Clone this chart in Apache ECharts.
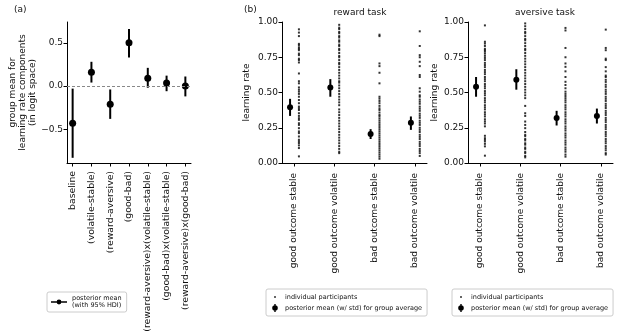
<!DOCTYPE html>
<html>
<head>
<meta charset="utf-8">
<script src="https://cdn.jsdelivr.net/npm/echarts@6/dist/echarts.min.js"></script>
<style>
  html, body { margin: 0; padding: 0; background: #fff; }
  #main { width: 617px; height: 335px; }
</style>
</head>
<body>
<div id="main"></div>
<script>
// panel (a): group means of learning rate components (logit space)
const aLabels = ["baseline", "(volatile-stable)", "(reward-aversive)", "(good-bad)",
  "(reward-aversive)x(volatile-stable)", "(good-bad)x(volatile-stable)", "(reward-aversive)x(good-bad)"];
const aMean = [-0.43, 0.16, -0.21, 0.50, 0.09, 0.035, 0.0];
const aLow = [-0.83, 0.04, -0.38, 0.33, -0.02, -0.06, -0.12];
const aHigh = [-0.03, 0.28, -0.04, 0.66, 0.21, 0.12, 0.11];

// panel (b)
const bLabels = ["good outcome stable", "good outcome volatile", "bad outcome stable", "bad outcome volatile"];
const rewardMean = [0.395, 0.536, 0.205, 0.285];
const rewardLow = [0.334, 0.47, 0.17, 0.235];
const rewardHigh = [0.455, 0.595, 0.24, 0.33];
const aversiveMean = [0.54, 0.59, 0.32, 0.334];
const aversiveLow = [0.47, 0.52, 0.266, 0.28];
const aversiveHigh = [0.61, 0.665, 0.37, 0.386];

// individual participants
const rewardGoodStable = [0.948, 0.925, 0.90, 0.845, 0.835, 0.82, 0.81, 0.80, 0.776, 0.765, 0.74, 0.73, 0.713,
  0.635, 0.58, 0.565, 0.536, 0.52, 0.506, 0.49, 0.47, 0.447, 0.424, 0.40, 0.388, 0.376, 0.353, 0.334, 0.318,
  0.306, 0.282, 0.27, 0.247, 0.224, 0.212, 0.188, 0.165, 0.153, 0.141, 0.125, 0.106, 0.047];
const rewardGoodVolatile = [0.98, 0.96, 0.95, 0.93, 0.92, 0.90, 0.89, 0.87, 0.86, 0.84, 0.83, 0.81, 0.80, 0.78,
  0.76, 0.75, 0.73, 0.71, 0.70, 0.68, 0.66, 0.64, 0.62, 0.60, 0.58, 0.57, 0.55, 0.53, 0.51, 0.49, 0.47, 0.45,
  0.43, 0.41, 0.38, 0.36, 0.34, 0.32, 0.30, 0.28, 0.26, 0.24, 0.22, 0.20, 0.18, 0.16, 0.14, 0.12, 0.10, 0.08, 0.07];
const rewardBadStable = [0.91, 0.90, 0.706, 0.687, 0.64, 0.565, 0.47, 0.456, 0.44, 0.424, 0.405, 0.388, 0.376,
  0.358, 0.341, 0.33, 0.315, 0.30, 0.285, 0.27, 0.255, 0.24, 0.225, 0.21, 0.195, 0.18, 0.165, 0.15, 0.135,
  0.12, 0.105, 0.09, 0.075, 0.06, 0.045, 0.03];
const rewardBadVolatile = [0.934, 0.83, 0.765, 0.75, 0.718, 0.687, 0.624, 0.61, 0.53, 0.506, 0.48, 0.47, 0.45,
  0.435, 0.42, 0.40, 0.385, 0.37, 0.35, 0.335, 0.32, 0.30, 0.285, 0.27, 0.25, 0.235, 0.22, 0.20, 0.185, 0.17,
  0.15, 0.135, 0.12, 0.10, 0.085, 0.07, 0.05];
const aversiveGoodStable = [0.976, 0.86, 0.847, 0.83, 0.81, 0.80, 0.79, 0.776, 0.76, 0.745, 0.73, 0.71, 0.695,
  0.68, 0.66, 0.645, 0.63, 0.61, 0.595, 0.58, 0.56, 0.545, 0.53, 0.51, 0.495, 0.48, 0.46, 0.445, 0.43, 0.41,
  0.395, 0.38, 0.36, 0.345, 0.33, 0.31, 0.295, 0.28, 0.26, 0.193, 0.176, 0.165, 0.153, 0.136, 0.118, 0.052];
const aversiveGoodVolatile = [0.99, 0.97, 0.95, 0.93, 0.92, 0.90, 0.88, 0.87, 0.85, 0.83, 0.81, 0.80, 0.78,
  0.76, 0.74, 0.72, 0.70, 0.68, 0.66, 0.64, 0.62, 0.60, 0.58, 0.56, 0.54, 0.52, 0.50, 0.48, 0.46, 0.405, 0.353,
  0.334, 0.294, 0.27, 0.247, 0.22, 0.20, 0.19, 0.17, 0.16, 0.14, 0.13, 0.11, 0.10, 0.08, 0.07, 0.05, 0.04];
const aversiveBadStable = [0.958, 0.94, 0.816, 0.75, 0.706, 0.682, 0.65, 0.61, 0.576, 0.553, 0.53, 0.506, 0.49,
  0.475, 0.46, 0.445, 0.43, 0.41, 0.395, 0.38, 0.36, 0.345, 0.33, 0.31, 0.295, 0.28, 0.26, 0.245, 0.23, 0.21,
  0.195, 0.18, 0.16, 0.145, 0.13, 0.11, 0.095, 0.08, 0.06, 0.045];
const aversiveBadVolatile = [0.946, 0.816, 0.80, 0.74, 0.73, 0.68, 0.65, 0.62, 0.61, 0.59, 0.575, 0.555,
  0.54, 0.52, 0.505, 0.49, 0.47, 0.455, 0.44, 0.42, 0.405, 0.39, 0.37, 0.355, 0.34, 0.32, 0.305, 0.29, 0.27,
  0.255, 0.24, 0.22, 0.205, 0.19, 0.17, 0.155, 0.14, 0.12, 0.105, 0.09, 0.07, 0.06];
const rewardDots = [rewardGoodStable, rewardGoodVolatile, rewardBadStable, rewardBadVolatile];
const aversiveDots = [aversiveGoodStable, aversiveGoodVolatile, aversiveBadStable, aversiveBadVolatile];

const FONT = "DejaVu Sans";
const DOT_NAME = "individual participants";
const MEAN_NAME = "posterior mean (w/ std) for group average";
const HDI_NAME = "posterior mean\n(with 95% HDI)";

const iconDot = "path://M0,0 M10,10 M4,5 A1,1 0 1,1 6,5 A1,1 0 1,1 4,5 Z";
const iconMean = "path://M0,0 M10,10 M4.3,1 L5.7,1 L5.7,9 L4.3,9 Z M2.2,5 A2.8,2.8 0 1,1 7.8,5 A2.8,2.8 0 1,1 2.2,5 Z";
const iconHdi = "path://M0,0 M20,10 M0,4.2 L20,4.2 L20,5.8 L0,5.8 Z M7,5 A3,3 0 1,1 13,5 A3,3 0 1,1 7,5 Z";

function errorBar(r) {
  return function (params, api) {
    const x = api.value(0);
    const p = api.coord([x, api.value(1)]);
    const a = api.coord([x, api.value(2)]);
    const b = api.coord([x, api.value(3)]);
    return {
      type: "group",
      children: [
        { type: "line", shape: { x1: a[0], y1: a[1], x2: b[0], y2: b[1] }, style: { stroke: "#000", lineWidth: 2 } },
        { type: "circle", shape: { cx: p[0], cy: p[1], r: r }, style: { fill: "#000" } }
      ]
    };
  };
}

function catAxis(grid, n, labels, fontSize, margin) {
  const vals = labels.map((_, i) => i);
  return {
    type: "value", gridIndex: grid, min: -0.3, max: n - 0.7,
    splitLine: { show: false },
    axisLine: { onZero: false, lineStyle: { color: "#000", width: 1 } },
    axisTick: { customValues: vals, length: 3.5, lineStyle: { color: "#000" } },
    axisLabel: {
      customValues: vals, rotate: 90, margin: margin, color: "#111", fontFamily: FONT, fontSize: fontSize,
      formatter: v => labels[Math.round(v)]
    }
  };
}

function rateAxis(grid, gap) {
  return {
    type: "value", gridIndex: grid, min: 0, max: 1, interval: 0.25,
    name: "learning rate", nameLocation: "middle", nameGap: gap, nameRotate: 90,
    nameTextStyle: { fontFamily: FONT, fontSize: 9, color: "#111" },
    splitLine: { show: false },
    axisLine: { show: true, onZero: false, lineStyle: { color: "#000", width: 1 } },
    axisTick: { show: true, length: 3.5, lineStyle: { color: "#000" } },
    axisLabel: { color: "#111", fontFamily: FONT, fontSize: 9, margin: 4, formatter: v => v.toFixed(2) }
  };
}

function dotData(cols) {
  const out = [];
  cols.forEach((col, i) => col.forEach(v => out.push([i + 0.12, v])));
  return out;
}
function meanData(m, lo, hi) {
  return m.map((v, i) => [i - 0.1, v, lo[i], hi[i]]);
}

const legendBox = {
  orient: "vertical", selectedMode: false, backgroundColor: "#fff",
  borderColor: "#ccc", borderWidth: 1, borderRadius: 2, padding: [3, 5, 3, 4],
  itemWidth: 10, itemHeight: 10, itemGap: 1,
  textStyle: { fontFamily: FONT, fontSize: 6.5, color: "#111" }
};

const chart = echarts.init(document.getElementById("main"), null, { renderer: "canvas" });
chart.setOption({
  animation: false,
  backgroundColor: "#fff",
  textStyle: { fontFamily: FONT },
  title: [
    { text: "(a)", left: 9, top: 0, textStyle: { fontFamily: FONT, fontSize: 9, fontWeight: "normal", color: "#111" } },
    { text: "(b)", left: 239, top: 0, textStyle: { fontFamily: FONT, fontSize: 9, fontWeight: "normal", color: "#111" } },
    { text: "reward task", left: 355, top: 3, textAlign: "center", textStyle: { fontFamily: FONT, fontSize: 9, fontWeight: "normal", color: "#111" } },
    { text: "aversive task", left: 540, top: 3, textAlign: "center", textStyle: { fontFamily: FONT, fontSize: 9, fontWeight: "normal", color: "#111" } }
  ],
  grid: [
    { left: 67, top: 22, width: 124, height: 141 },
    { left: 282, top: 22, width: 145, height: 141 },
    { left: 468, top: 22, width: 145, height: 141 }
  ],
  xAxis: [catAxis(0, 7, aLabels, 9.3, 8), catAxis(1, 4, bLabels, 9, 10), catAxis(2, 4, bLabels, 9, 10)],
  yAxis: [
    {
      type: "value", gridIndex: 0, min: -0.89, max: 0.74,
      name: "group mean for\nlearning rate components\n(in logit space)",
      nameLocation: "middle", nameGap: 24, nameRotate: 90,
      nameTextStyle: { fontFamily: FONT, fontSize: 9, color: "#111", lineHeight: 10 },
      splitLine: { show: false },
      axisLine: { show: true, onZero: false, lineStyle: { color: "#000", width: 1 } },
      axisTick: { show: true, customValues: [-0.5, 0, 0.5], length: 3.5, lineStyle: { color: "#000" } },
      axisLabel: {
        customValues: [-0.5, 0, 0.5], color: "#111", fontFamily: FONT, fontSize: 9, margin: 4,
        formatter: v => (v < 0 ? "\u2212" : "") + Math.abs(v).toFixed(1)
      }
    },
    rateAxis(1, 31),
    rateAxis(2, 29)
  ],
  legend: [
    Object.assign({}, legendBox, {
      left: 47, top: 292, itemWidth: 16, itemHeight: 8,
      data: [{ name: HDI_NAME, icon: iconHdi }]
    }),
    Object.assign({}, legendBox, {
      left: 266, top: 289,
      data: [{ name: DOT_NAME, icon: iconDot }, { name: MEAN_NAME, icon: iconMean }]
    }),
    Object.assign({}, legendBox, {
      left: 452, top: 289,
      data: [{ name: DOT_NAME, icon: iconDot }, { name: MEAN_NAME, icon: iconMean }]
    })
  ],
  series: [
    {
      name: HDI_NAME, type: "custom", xAxisIndex: 0, yAxisIndex: 0,
      itemStyle: { color: "#000" },
      renderItem: errorBar(3.5),
      data: aMean.map((v, i) => [i, v, aLow[i], aHigh[i]]),
      markLine: {
        silent: true, symbol: "none", label: { show: false },
        lineStyle: { color: "#888", type: [3, 2], width: 1.2 },
        data: [{ yAxis: 0 }]
      }
    },
    {
      name: DOT_NAME, type: "scatter", xAxisIndex: 1, yAxisIndex: 1,
      symbol: "rect", symbolSize: 2, itemStyle: { color: "#000" },
      data: dotData(rewardDots)
    },
    {
      name: MEAN_NAME, type: "custom", xAxisIndex: 1, yAxisIndex: 1,
      itemStyle: { color: "#000" }, renderItem: errorBar(3),
      data: meanData(rewardMean, rewardLow, rewardHigh)
    },
    {
      name: DOT_NAME, type: "scatter", xAxisIndex: 2, yAxisIndex: 2,
      symbol: "rect", symbolSize: 2, itemStyle: { color: "#000" },
      data: dotData(aversiveDots)
    },
    {
      name: MEAN_NAME, type: "custom", xAxisIndex: 2, yAxisIndex: 2,
      itemStyle: { color: "#000" }, renderItem: errorBar(3),
      data: meanData(aversiveMean, aversiveLow, aversiveHigh)
    }
  ]
});
</script>
</body>
</html>
